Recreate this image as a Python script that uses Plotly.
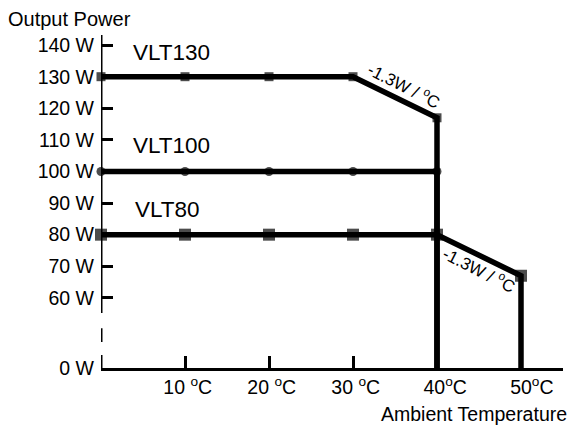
import plotly.graph_objects as go

# ---- data ----
temps_130 = [0, 10, 20, 30, 40, 40]
power_130 = [130, 130, 130, 130, 117, 0]
temps_100 = [0, 10, 20, 30, 40, 40]
power_100 = [100, 100, 100, 100, 100, 0]
temps_80 = [0, 10, 20, 30, 40, 50, 50]
power_80 = [80, 80, 80, 80, 80, 67, 0]

series_names = ["VLT130", "VLT100", "VLT80"]
y_tick_watts = [0, 60, 70, 80, 90, 100, 110, 120, 130, 140]
x_tick_temps = [10, 20, 30, 40, 50]
x_tick_labels = ["&nbsp;10 <sup>o</sup>C", "&nbsp;20 <sup>o</sup>C", "&nbsp;30 <sup>o</sup>C",
                 "&nbsp;&nbsp;&nbsp;40<sup>o</sup>C", "&nbsp;&nbsp;&nbsp;&nbsp;50<sup>o</sup>C"]
slope_label = "-1.3W / <sup>o</sup>C"

# broken axis: values below 60 W collapse to the axis bottom
Y_MIN, Y_MAX = 37.8, 143.2
def yb(w):
    return w if w >= 60 else Y_MIN

FONT = "Liberation Sans, Arial, sans-serif"

fig = go.Figure()

def add(xs, ys, symbol, size):
    sizes = [size] * (len(xs) - 1) + [0]
    fig.add_trace(go.Scatter(
        x=xs, y=[yb(v) for v in ys], mode="lines+markers",
        line=dict(color="black", width=5.5),
        marker=dict(symbol=symbol, size=sizes, color="black", line=dict(width=0)),
        showlegend=False, cliponaxis=False))

add(temps_130, power_130, "square", 9)
add(temps_100, power_100, "circle", 9)
add(temps_80, power_80, "square", 12)

# y axis line with break
for y0, y1 in [(55.2, Y_MAX), (46.0, 50.4), (Y_MIN, 41.9)]:
    fig.add_shape(type="line", xref="x", yref="y", x0=0, x1=0, y0=y0, y1=y1,
                  line=dict(color="black", width=3))

# series labels
for name, (lx, ly) in zip(series_names, [(3.6, 137.8), (3.6, 108.2), (3.8, 88.0)]):
    fig.add_annotation(x=lx, y=ly, text=name, showarrow=False, xref="x", yref="y",
                       xanchor="left", font=dict(size=22.5, color="black", family=FONT))

# slope labels
for sx, sy in [(36.1, 127.3), (45.0, 69.0)]:
    fig.add_annotation(x=sx, y=sy, text=slope_label, showarrow=False, textangle=27,
                       font=dict(size=17, color="black", family=FONT))

fig.add_annotation(xref="paper", yref="paper", x=-0.205, y=1.0, yshift=29,
                   text="Output Power", showarrow=False, xanchor="left",
                   font=dict(size=20, color="black", family=FONT))
fig.add_annotation(xref="paper", yref="paper", x=1.013, y=0, yshift=-59,
                   text="Ambient Temperature", showarrow=False, xanchor="right",
                   font=dict(size=19.5, color="black", family=FONT))

fig.update_xaxes(range=[0, 55], showgrid=False, zeroline=False, showline=True,
                 linecolor="black", linewidth=3, ticks="inside", ticklen=12,
                 tickwidth=3, tickcolor="black", tickvals=x_tick_temps,
                 ticktext=x_tick_labels, tickfont=dict(size=19.5, color="black", family=FONT))
fig.update_yaxes(range=[Y_MIN, Y_MAX], showgrid=False, zeroline=False, showline=False,
                 ticks="inside", ticklen=12, tickwidth=3, tickcolor="black",
                 tickvals=[yb(v) for v in y_tick_watts],
                 ticktext=[f"{v} W" for v in y_tick_watts], ticklabelstandoff=6,
                 tickfont=dict(size=19.5, color="black", family=FONT))

fig.update_layout(width=569, height=426, margin=dict(l=101, r=6, t=35, b=58),
                  plot_bgcolor="white", paper_bgcolor="white")
fig.write_html("out.html", config={"displayModeBar": False},
               post_script="document.body.style.margin='0';document.body.style.overflow='hidden';")
